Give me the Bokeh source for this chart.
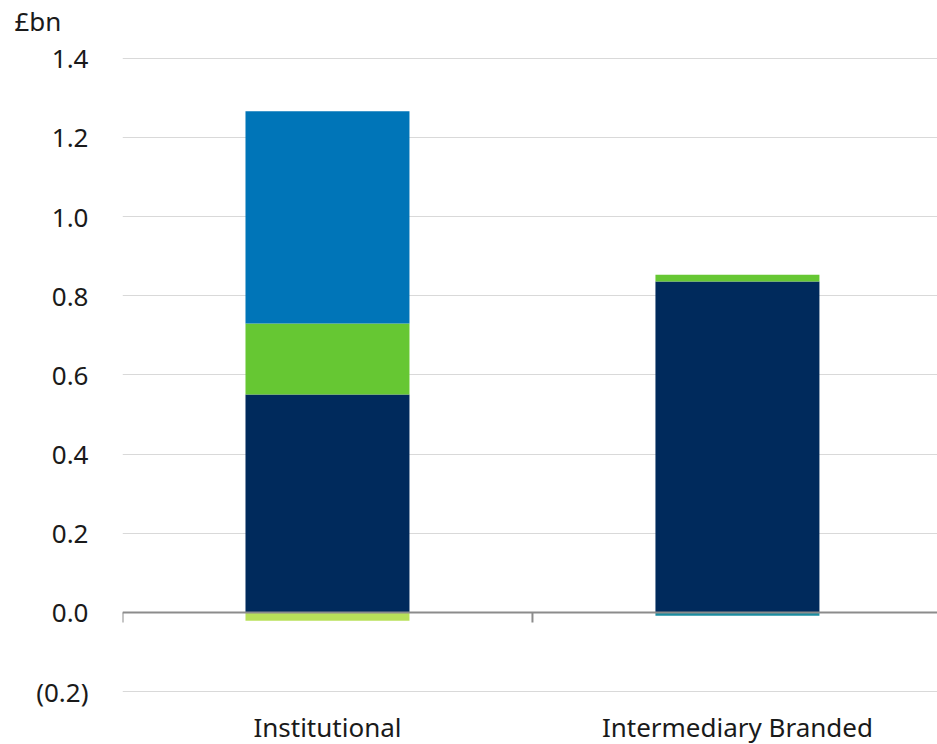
from bokeh.plotting import figure
from bokeh.models import Range1d, FixedTicker, CustomJSTickFormatter, Span, Title
from bokeh.embed import file_html
from bokeh.resources import INLINE

categories = ["Institutional", "Intermediary Branded"]
navy_vals = [0.551, 0.836]
green_vals = [0.179, 0.017]
blue_vals = [0.536, 0.0]
neg_lime = [-0.021, 0.0]
neg_teal = [0.0, -0.008]
y_ticks = [-0.2, 0.0, 0.2, 0.4, 0.6, 0.8, 1.0, 1.2, 1.4]

FONT = "Noto Sans"
FS = "26px"
TXT = "#1a1a1a"

n = len(categories)
centers = [i + 0.5 for i in range(n)]

p = figure(frame_width=815, frame_height=669, output_backend="svg", toolbar_location=None,
           x_range=Range1d(0, 1.988), y_range=Range1d(-0.24, 1.45),
           min_border_left=122, min_border_right=0, min_border_top=37, min_border_bottom=0)
p.outline_line_color = None
p.background_fill_color = "white"

# stacked bars
b1 = [0.0] * n
t1 = [b + v for b, v in zip(b1, navy_vals)]
t2 = [b + v for b, v in zip(t1, green_vals)]
t3 = [b + v for b, v in zip(t2, blue_vals)]
bw = 0.4
p.vbar(x=centers, bottom=b1, top=t1, width=bw, fill_color="#002a5c", line_color=None)
p.vbar(x=centers, bottom=t1, top=t2, width=bw, fill_color="#66c733", line_color=None)
p.vbar(x=centers, bottom=t2, top=t3, width=bw, fill_color="#0075b8", line_color=None)
p.vbar(x=centers, bottom=0, top=neg_lime, width=bw, fill_color="#b8e05a", line_color=None)
p.vbar(x=centers, bottom=0, top=neg_teal, width=bw, fill_color="#1a8ca0", line_color=None)

# zero line and category boundary ticks
p.add_layout(Span(location=0, dimension="width", line_color="#8c8c8c", line_width=2, level="overlay"))
bounds = list(range(n + 1))
p.segment(x0=bounds, x1=bounds, y0=[0] * (n + 1), y1=[-0.025] * (n + 1), line_color="#8c8c8c", line_width=2)

# y axis
p.yaxis.ticker = FixedTicker(ticks=y_ticks)
p.yaxis.formatter = CustomJSTickFormatter(code="""
const v = Math.abs(tick).toFixed(1);
return tick < -1e-9 ? '(' + v + ')' : v;
""")
p.yaxis.axis_line_color = None
p.yaxis.major_tick_line_color = None
p.yaxis.minor_tick_line_color = None
p.yaxis.major_tick_in = 0
p.yaxis.major_tick_out = 0
p.yaxis.major_label_standoff = 34
p.yaxis.major_label_text_font = FONT
p.yaxis.major_label_text_font_size = FS
p.yaxis.major_label_text_color = TXT

p.ygrid.ticker = FixedTicker(ticks=y_ticks)
p.ygrid.grid_line_color = "#d9d9d9"
p.ygrid.grid_line_width = 1
p.xgrid.grid_line_color = None

# x axis: category labels
p.xaxis.ticker = FixedTicker(ticks=centers)
p.xaxis.major_label_overrides = {c: lab for c, lab in zip(centers, categories)}
p.xaxis.axis_line_color = None
p.xaxis.major_tick_line_color = None
p.xaxis.minor_tick_line_color = None
p.xaxis.major_tick_in = 0
p.xaxis.major_tick_out = 0
p.xaxis.major_label_standoff = 1
p.xaxis.major_label_text_font = FONT
p.xaxis.major_label_text_font_size = FS
p.xaxis.major_label_text_color = TXT

p.title = Title(text="£bn", align="left", offset=-108, standoff=0, text_font=FONT,
                text_font_size=FS, text_font_style="normal", text_color=TXT)

open("out.html", "w").write(file_html(p, INLINE))
